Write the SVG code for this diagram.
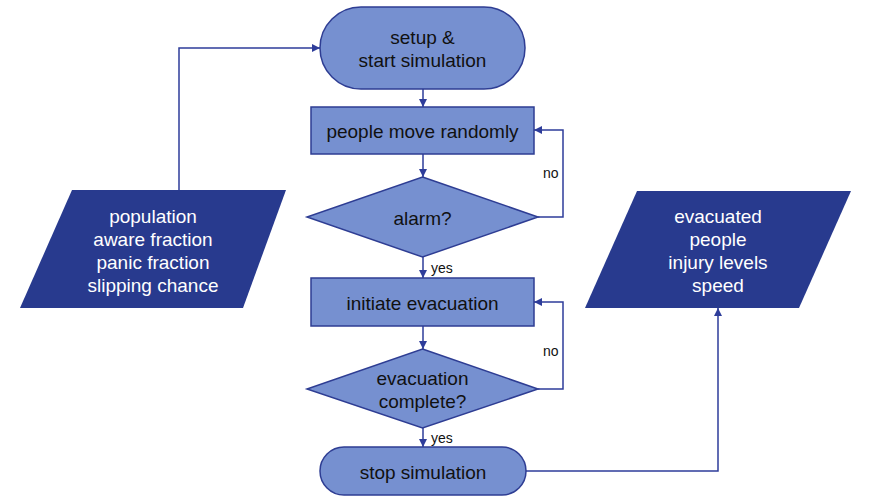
<svg xmlns="http://www.w3.org/2000/svg" width="869" height="499" viewBox="0 0 869 499">
<style>
.node{fill:#7690D0;stroke:#2E3D93;stroke-width:1.5}
.io{fill:#283A8E;stroke:none}
.t{font-family:"Liberation Sans",Arial,sans-serif;font-size:19px;fill:#111;text-anchor:middle;dominant-baseline:central}
.tw{font-family:"Liberation Sans",Arial,sans-serif;font-size:19px;fill:#fff;text-anchor:middle;dominant-baseline:central}
.lbl{font-family:"Liberation Sans",Arial,sans-serif;font-size:14px;fill:#111;dominant-baseline:central}
.c{fill:none;stroke:#2E3D9A;stroke-width:1.5}
</style>
<defs>
<marker id="ah" viewBox="0 0 10 10" refX="10" refY="5" markerWidth="8" markerHeight="8" markerUnits="userSpaceOnUse" orient="auto">
<path d="M0,0 L10,5 L0,10 z" fill="#2E3D9A"/>
</marker>
</defs>
<rect width="869" height="499" fill="#fff"/>
<g id="connectors">
<path class="c" d="M423,89 V107" marker-end="url(#ah)"/>
<path class="c" d="M423,154 V177" marker-end="url(#ah)"/>
<path class="c" d="M538,217 H563 V130 H534" marker-end="url(#ah)"/>
<path class="c" d="M423,257 V278" marker-end="url(#ah)"/>
<path class="c" d="M423,326 V349" marker-end="url(#ah)"/>
<path class="c" d="M538,389 H563 V302 H534" marker-end="url(#ah)"/>
<path class="c" d="M423,428 V447" marker-end="url(#ah)"/>
<path class="c" d="M179,190 V48 H320" marker-end="url(#ah)"/>
<path class="c" d="M526,471 H718 V308" marker-end="url(#ah)"/>
<text class="lbl" x="543" y="173">no</text>
<text class="lbl" x="543" y="351">no</text>
<text class="lbl" x="431" y="268">yes</text>
<text class="lbl" x="431" y="438">yes</text>
</g>
<g id="start">
<rect class="node" x="320" y="7" width="205" height="82" rx="41"/>
<text class="t" x="422.5" y="37">setup &amp;</text>
<text class="t" x="422.5" y="60">start simulation</text>
</g>
<g id="move">
<rect class="node" x="311" y="107" width="223" height="47"/>
<text class="t" x="422.5" y="131">people move randomly</text>
</g>
<g id="alarm">
<polygon class="node" points="422.5,177 538,217 422.5,257 307,217"/>
<text class="t" x="422.5" y="218">alarm?</text>
</g>
<g id="initiate">
<rect class="node" x="311" y="278" width="223" height="48"/>
<text class="t" x="422.5" y="303">initiate evacuation</text>
</g>
<g id="complete">
<polygon class="node" points="422.5,349 538,389 422.5,428 307,389"/>
<text class="t" x="422.5" y="378">evacuation</text>
<text class="t" x="422.5" y="401">complete?</text>
</g>
<g id="stop">
<rect class="node" x="320" y="447" width="206" height="48" rx="24"/>
<text class="t" x="423" y="472">stop simulation</text>
</g>
<g id="inputs">
<polygon class="io" points="72,190 286,190 243,308 20,308"/>
<text class="tw" x="153" y="216">population</text>
<text class="tw" x="153" y="239">aware fraction</text>
<text class="tw" x="153" y="262">panic fraction</text>
<text class="tw" x="153" y="285">slipping chance</text>
</g>
<g id="outputs">
<polygon class="io" points="637,191 851,191 799,308 585,308"/>
<text class="tw" x="718" y="216">evacuated</text>
<text class="tw" x="718" y="239">people</text>
<text class="tw" x="718" y="262">injury levels</text>
<text class="tw" x="718" y="285">speed</text>
</g>
</svg>
